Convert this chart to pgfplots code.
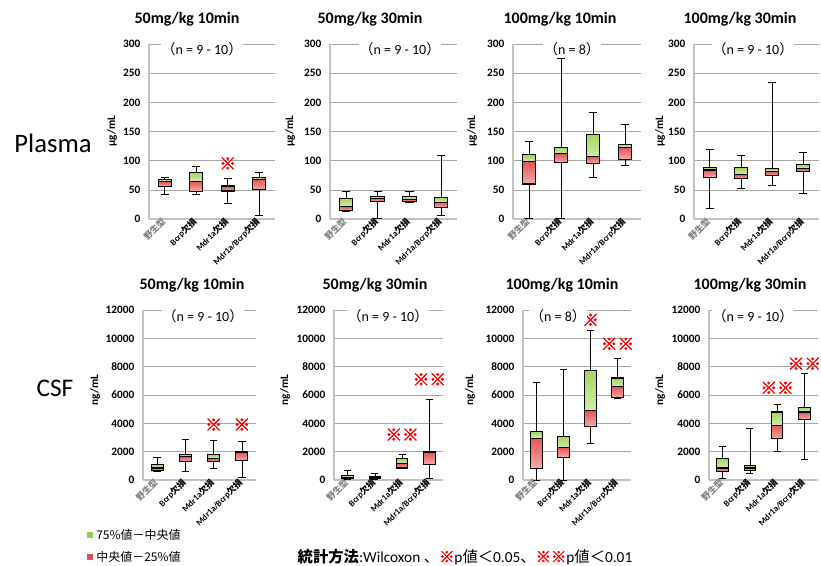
\documentclass[border=0pt]{standalone}
\usepackage{fontspec}
\setmainfont{Carlito}
\newfontfamily\cjk{Noto Sans CJK JP}
\newfontfamily\cjkstar[FakeBold=2.5]{Noto Sans CJK JP}
\usepackage{pgfplots}
\pgfplotsset{compat=1.18}
\usepgfplotslibrary{statistics}
\definecolor{gtop}{RGB}{165,212,95}
\definecolor{gbot}{RGB}{210,238,165}
\definecolor{rtop}{RGB}{230,85,85}
\definecolor{rbot}{RGB}{248,170,170}
\definecolor{gridc}{RGB}{165,165,165}
\definecolor{axc}{RGB}{195,195,195}
\definecolor{lgreen}{RGB}{146,208,80}
\definecolor{lred}{RGB}{224,80,80}

\newcommand{\bx}[6]{%
\addplot[draw=black, boxplot prepared={draw direction=y, draw position=#1, lower whisker=#2, lower quartile=#3, median=#4, upper quartile=#4, upper whisker=#6, box extend=0.42, whisker extend=0.26, every box/.style={draw=black, line width=0.8pt, top color=rtop, bottom color=rbot}, every whisker/.style={draw=black, line width=0.5pt}, every median/.style={draw=none}}] coordinates {};
\addplot[draw=black, boxplot prepared={draw direction=y, draw position=#1, lower whisker=#4, lower quartile=#4, median=#4, upper quartile=#5, upper whisker=#5, box extend=0.42, whisker extend=0.26, every box/.style={draw=black, line width=0.8pt, top color=gtop, bottom color=gbot}, every whisker/.style={draw=none}, every median/.style={draw=none}}] coordinates {};
}
\newcommand{\sig}[3]{\addplot[only marks, mark=text, text mark={\textcolor{red}{\fontsize{12.5}{12.5}\selectfont\cjkstar #3}}] coordinates {(#1,#2)};}

\pgfplotsset{
 panel/.style={scale only axis, anchor=south west, axis lines=left,
  axis line style={-, draw=axc, line width=0.8pt},
  xmin=0.5, xmax=4.5, ymin=0, xtick={1,2,3,4},
  xticklabels={{\color{gray}\cjk 野生型},{Bcrp{\cjk 欠損}},{Mdr1a{\cjk 欠損}},{Mdr1a/Bcrp{\cjk 欠損}}},
  major tick length=0pt, ymajorgrids, grid style={gridc, line width=0.5pt},
  x tick label style={rotate=45, anchor=east, font=\fontsize{6.5}{7}\selectfont\bfseries, inner sep=1pt},
  y tick label style={font=\fontsize{8.5}{9}\selectfont\bfseries, xshift=-3pt},
  /pgf/number format/assume math mode=true, /pgf/number format/1000 sep={},
  scaled y ticks=false, clip=false},
 ptop/.style={panel, ymax=300, ytick={0,50,...,300}, height=131.25pt},
 pbot/.style={panel, ymax=12000, ytick={0,2000,4000,6000,8000,10000,12000}, height=127.5pt}
}

\begin{document}
\begin{tikzpicture}
\useasboundingbox (0,0) rectangle (615.75pt,-423.75pt);

% ---------- Plasma ----------
\begin{axis}[ptop, at={(111.75pt,-164.25pt)}, width=94.5pt]
\bx{1}{43}{55}{64}{68}{71}
\bx{2}{43}{47}{65}{79}{90}
\bx{3}{27}{48}{56}{58}{69}
\bx{4}{6}{50}{68}{71}{80}
\sig{3}{95}{※}
\end{axis}
\begin{axis}[ptop, at={(247.5pt,-164.25pt)}, width=95.25pt]
\bx{1}{14}{14}{22}{35}{48}
\bx{2}{2}{30}{35}{38}{48}
\bx{3}{29}{30}{34}{38}{48}
\bx{4}{7}{20}{29}{37}{109}
\end{axis}
\begin{axis}[ptop, at={(384.75pt,-164.25pt)}, width=96pt]
\bx{1}{1}{60}{98}{110}{134}
\bx{2}{1}{97}{112}{123}{275}
\bx{3}{71}{95}{107}{145}{183}
\bx{4}{92}{102}{123}{128}{162}
\end{axis}
\begin{axis}[ptop, at={(520.5pt,-164.25pt)}, width=93.75pt]
\bx{1}{19}{71}{84}{88}{119}
\bx{2}{53}{69}{76}{88}{110}
\bx{3}{57}{74}{81}{86}{235}
\bx{4}{44}{81}{87}{93}{115}
\end{axis}

% ---------- CSF ----------
\begin{axis}[pbot, at={(107.25pt,-360pt)}, width=84.75pt]
\bx{1}{600}{650}{850}{1100}{1600}
\bx{2}{600}{1300}{1650}{1800}{2850}
\bx{3}{850}{1300}{1500}{1800}{2800}
\bx{4}{200}{1400}{1950}{2000}{2700}
\sig{3}{3900}{※}
\sig{4}{3900}{※}
\end{axis}
\begin{axis}[pbot, at={(250.5pt,-360pt)}, width=81.75pt]
\bx{1}{50}{100}{200}{350}{650}
\bx{2}{50}{100}{200}{250}{500}
\bx{3}{850}{850}{1150}{1500}{1800}
\bx{4}{100}{1100}{1950}{2000}{5700}
\sig{3}{3200}{※※}
\sig{4}{7100}{※※}
\end{axis}
\begin{axis}[pbot, at={(392.25pt,-360pt)}, width=81pt]
\bx{1}{0}{800}{2950}{3400}{6900}
\bx{2}{0}{1600}{2300}{3100}{7800}
\bx{3}{2600}{3800}{4900}{7700}{10600}
\bx{4}{5800}{5800}{6600}{7200}{8600}
\sig{3}{11300}{※}
\sig{4}{9600}{※※}
\end{axis}
\begin{axis}[pbot, at={(531.75pt,-360pt)}, width=81.75pt]
\bx{1}{150}{600}{850}{1500}{2350}
\bx{2}{500}{700}{850}{1050}{3650}
\bx{3}{2000}{2900}{3850}{4800}{5350}
\bx{4}{1450}{4300}{4800}{5150}{7500}
\sig{3}{6500}{※※}
\sig{4}{8200}{※※}
\end{axis}

% ---------- titles ----------
\begin{scope}[every node/.style={font=\fontsize{12}{12}\selectfont\bfseries}]
\node at (140.25pt,-14.25pt) {50mg/kg 10min};
\node at (277.5pt,-14.25pt) {50mg/kg 30min};
\node at (420pt,-14.25pt) {100mg/kg 10min};
\node at (555pt,-14.25pt) {100mg/kg 30min};
\node at (144pt,-213.75pt) {50mg/kg 10min};
\node at (281.25pt,-213.75pt) {50mg/kg 30min};
\node at (421.5pt,-213.75pt) {100mg/kg 10min};
\node at (562.5pt,-213.75pt) {100mg/kg 30min};
\end{scope}

% ---------- n labels ----------
\begin{scope}[every node/.style={font=\fontsize{10.5}{11}\selectfont, fill=white, inner sep=0.5pt}]
\node at (151.5pt,-36.75pt) {{\cjk （}n = 9 - 10{\cjk ）}};
\node at (300pt,-36.75pt) {{\cjk （}n = 9 - 10{\cjk ）}};
\node at (429pt,-36.75pt) {{\cjk （}n = 8{\cjk ）}};
\node at (564.75pt,-36.75pt) {{\cjk （}n = 9 - 10{\cjk ）}};
\node at (152.25pt,-237pt) {{\cjk （}n = 9 - 10{\cjk ）}};
\node at (291pt,-237pt) {{\cjk （}n = 9 - 10{\cjk ）}};
\node at (418.5pt,-237pt) {{\cjk （}n = 8{\cjk ）}};
\node at (564.75pt,-237pt) {{\cjk （}n = 9 - 10{\cjk ）}};
\end{scope}

% ---------- y labels ----------
\begin{scope}[every node/.style={font=\fontsize{8.5}{9}\selectfont\bfseries, rotate=90}]
\node at (84pt,-98.25pt) {μg/mL};
\node at (217.5pt,-98.25pt) {μg/mL};
\node at (354pt,-98.25pt) {μg/mL};
\node at (495pt,-98.25pt) {μg/mL};
\node at (71.25pt,-292.5pt) {ng/mL};
\node at (213.75pt,-292.5pt) {ng/mL};
\node at (352.5pt,-292.5pt) {ng/mL};
\node at (495pt,-292.5pt) {ng/mL};
\end{scope}

% ---------- row labels ----------
\node[font=\fontsize{20}{20}\selectfont] at (39.75pt,-107.25pt) {Plasma};
\node[font=\fontsize{19}{19}\selectfont] at (41.25pt,-291pt) {CSF};

% ---------- legend ----------
\fill[lgreen] (65.25pt,-399pt) rectangle (69.75pt,-403.5pt);
\node[anchor=west, font=\fontsize{9}{9}\selectfont\cjk, inner sep=0pt] at (72pt,-401.25pt) {75\%値－中央値};
\fill[lred] (65.25pt,-415.5pt) rectangle (69.75pt,-420pt);
\node[anchor=west, font=\fontsize{9}{9}\selectfont\cjk, inner sep=0pt] at (72pt,-417.75pt) {中央値－25\%値};

% ---------- footnote ----------
\node[font=\fontsize{11.5}{12}\selectfont] at (348.75pt,-417.75pt) {{\cjk\bfseries 統計方法}:Wilcoxon {\cjk 、}{\cjkstar\color{red}※}p{\cjk 値＜}0.05{\cjk 、}{\cjkstar\color{red}※※}p{\cjk 値＜}0.01};
\end{tikzpicture}
\end{document}
